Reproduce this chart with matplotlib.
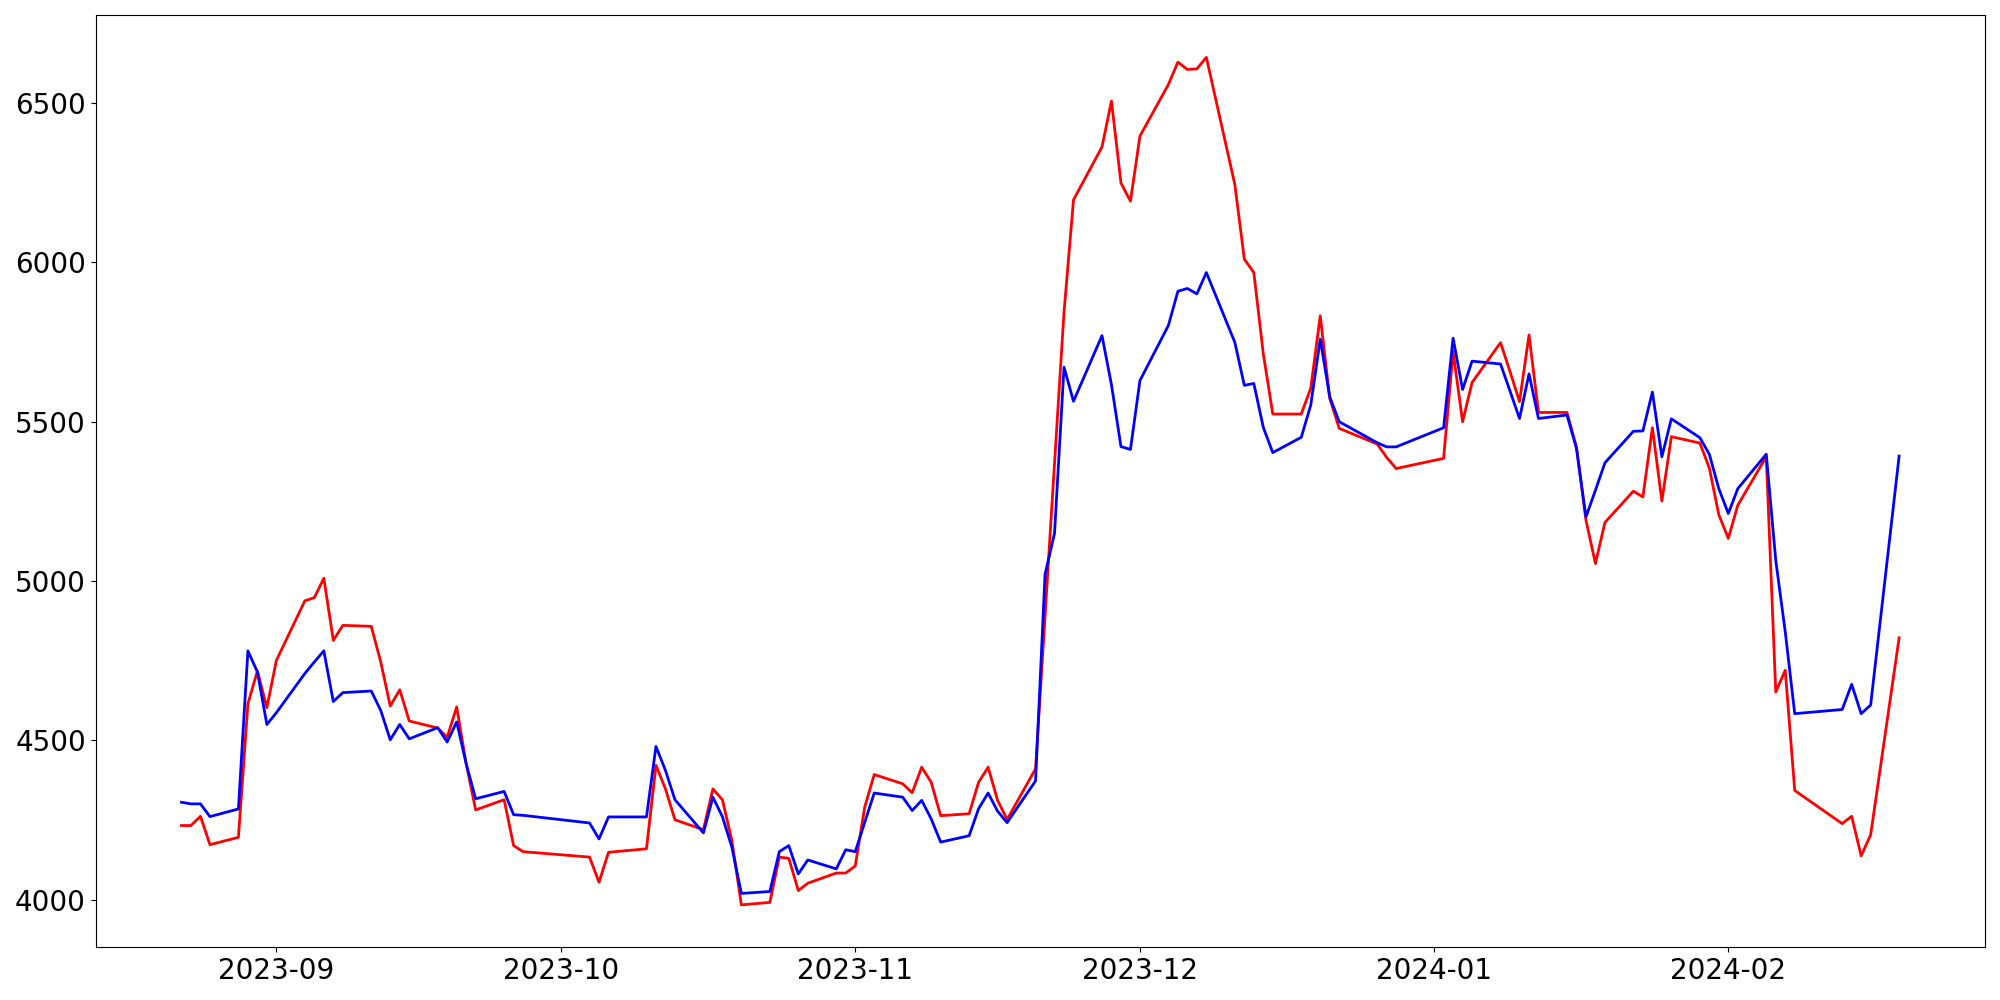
import matplotlib
matplotlib.use("Agg")
import matplotlib.pyplot as plt
import pandas as pd

# trading days per month
aug_days = [22, 23, 24, 25, 28, 29, 30, 31]
sep_days = [1, 4, 5, 6, 7, 8, 11, 12, 13, 14, 15, 18, 19, 20, 21, 22, 25, 26, 27]
oct_days = [4, 5, 6, 10, 11, 12, 13, 16, 17, 18, 19, 20, 23, 24, 25, 26, 27, 30, 31]
nov_days = [1, 2, 3, 6, 7, 8, 9, 10, 13, 14, 15, 16, 17, 20, 21, 22, 23, 24, 27, 28, 29, 30]
dec_days = [1, 4, 5, 6, 7, 8, 11, 12, 13, 14, 15, 18, 19, 20, 21, 22, 26, 27, 28]
jan_days = [2, 3, 4, 5, 8, 9, 10, 11, 12, 15, 16, 17, 18, 19, 22, 23, 24, 25, 26, 29, 30, 31]
feb_days = [1, 2, 5, 6, 7, 8, 13, 14, 15, 16, 19]

red_values = [
    # Aug
    4233, 4233, 4262, 4173, 4196, 4615, 4718, 4603,
    # Sep
    4751, 4938, 4948, 5009, 4814, 4861, 4858, 4746, 4608, 4659, 4561, 4539, 4510, 4605,
    4427, 4282, 4314, 4170, 4151,
    # Oct
    4134, 4055, 4149, 4160, 4422, 4348, 4251, 4220, 4348, 4314, 4186, 3984, 3992, 4134,
    4130, 4029, 4052, 4084, 4084,
    # Nov
    4106, 4291, 4393, 4364, 4336, 4416, 4369, 4264, 4270, 4369, 4416, 4312, 4252, 4411,
    4890, 5370, 5844, 6196, 6362, 6506, 6249, 6192,
    # Dec
    6396, 6558, 6628, 6605, 6607, 6643, 6244, 6010, 5968, 5713, 5524, 5524, 5605, 5832,
    5573, 5479, 5430, 5388, 5353,
    # Jan
    5385, 5720, 5500, 5623, 5748, 5657, 5563, 5772, 5529, 5529, 5421, 5191, 5055, 5184,
    5282, 5264, 5481, 5251, 5453, 5433, 5355, 5208,
    # Feb
    5134, 5238, 5390, 4652, 4720, 4343, 4239, 4262, 4138, 4204, 4822,
]

blue_values = [
    # Aug
    4306, 4301, 4301, 4261, 4285, 4781, 4715, 4550,
    # Sep
    4587, 4710, 4746, 4781, 4622, 4650, 4655, 4594, 4502, 4550, 4505, 4540, 4495, 4558,
    4427, 4317, 4340, 4267, 4265,
    # Oct
    4241, 4191, 4260, 4260, 4481, 4406, 4314, 4210, 4322, 4261, 4165, 4020, 4026, 4151,
    4170, 4081, 4125, 4097, 4157,
    # Nov
    4151, 4243, 4335, 4322, 4280, 4312, 4254, 4181, 4201, 4286, 4335, 4278, 4242, 4373,
    5021, 5150, 5671, 5564, 5770, 5616, 5422, 5413,
    # Dec
    5629, 5802, 5909, 5918, 5901, 5968, 5749, 5614, 5620, 5482, 5403, 5451, 5552, 5759,
    5578, 5500, 5434, 5421, 5421,
    # Jan
    5481, 5762, 5601, 5690, 5681, 5596, 5510, 5650, 5510, 5521, 5416, 5201, 5285, 5371,
    5470, 5471, 5593, 5390, 5509, 5450, 5398, 5290,
    # Feb
    5212, 5290, 5398, 5065, 4841, 4584, 4597, 4676, 4584, 4611, 5392,
]

# build the date index from the month lists
dates = []
for year, month, days in [(2023, 8, aug_days), (2023, 9, sep_days), (2023, 10, oct_days),
                          (2023, 11, nov_days), (2023, 12, dec_days), (2024, 1, jan_days),
                          (2024, 2, feb_days)]:
    for d in days:
        dates.append(pd.Timestamp(year=year, month=month, day=d))

fig, ax = plt.subplots(figsize=(20, 10), dpi=100)
ax.plot(dates, red_values, color='red', linewidth=2)
ax.plot(dates, blue_values, color='blue', linewidth=2)
ax.tick_params(axis='both', labelsize=20)

plt.tight_layout()
plt.savefig('out.png')
